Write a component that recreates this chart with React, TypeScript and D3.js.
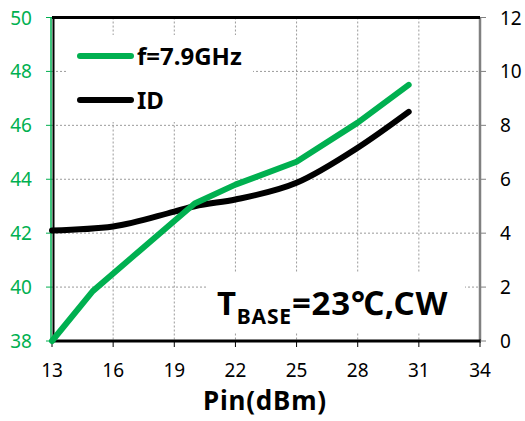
import React from "react";
import * as d3 from "d3";

const xTicks = [13, 16, 19, 22, 25, 28, 31, 34];
const leftTicks = [38, 40, 42, 44, 46, 48, 50];
const rightTicks = [0, 2, 4, 6, 8, 10, 12];

const poutX = [13, 15, 17, 19, 20, 22, 25, 28, 30.5];
const poutY = [38, 39.85, 41.15, 42.45, 43.1, 43.8, 44.65, 46.1, 47.5];

const idX = [13, 16, 19, 20, 22, 25, 28, 30.5];
const idY = [4.1, 4.25, 4.8, 5.0, 5.25, 5.87, 7.17, 8.5];

const GREEN = "#00B050";
const FONT = "'Noto Sans', 'DejaVu Sans', sans-serif";

export default function App() {
  const W = 525, H = 421;
  const L = 52, R = 480, T = 17.5, B = 341;
  const x = d3.scaleLinear().domain([13, 34]).range([L, R]);
  const yl = d3.scaleLinear().domain([38, 50]).range([B, T]);
  const yr = d3.scaleLinear().domain([0, 12]).range([B, T]);

  const poutLine = d3.line<number>().x((_, i) => x(poutX[i])).y((d) => yl(d));
  const idLine = d3
    .line<number>()
    .x((_, i) => x(idX[i]))
    .y((d) => yr(d))
    .curve(d3.curveMonotoneX);

  return (
    <svg width={W} height={H} style={{ position: "absolute", left: 0, top: 0, background: "#fff" }}>
      <rect x={0} y={0} width={W} height={H} fill="#fff" />
      {/* grid */}
      {xTicks.slice(1, -1).map((t) => (
        <line key={"gx" + t} x1={x(t)} x2={x(t)} y1={T} y2={B} stroke="#9a9a9a" strokeWidth={1} strokeDasharray="2,2" />
      ))}
      {leftTicks.slice(1, -1).map((t) => (
        <line key={"gy" + t} x1={L} x2={R} y1={yl(t)} y2={yl(t)} stroke="#9a9a9a" strokeWidth={1} strokeDasharray="2,2" />
      ))}
      {/* legend box background */}
      <rect x={68} y={35} width={185} height={87} fill="#fff" />
      {/* annotation box background */}
      <rect x={207} y={273} width={258} height={59} fill="#fff" />

      {/* frame */}
      <line x1={R} x2={R} y1={T} y2={B} stroke="#808080" strokeWidth={2.5} />
      <line x1={L} x2={R} y1={T} y2={T} stroke="#000" strokeWidth={3} />
      <line x1={L + 1.5} x2={L + 1.5} y1={T} y2={B} stroke="#000" strokeWidth={2} />
      <line x1={L - 1} x2={L - 1} y1={T} y2={B} stroke={GREEN} strokeWidth={1.5} />
      <line x1={L} x2={R + 1} y1={B} y2={B} stroke="#000" strokeWidth={3} />

      {/* ticks */}
      {xTicks.map((t) => (
        <g key={"xt" + t}>
          <line x1={x(t)} x2={x(t)} y1={B} y2={B + 6} stroke="#000" strokeWidth={1} />
          <text x={x(t)} y={377} textAnchor="middle" fontFamily={FONT} fontSize={19} fill="#000">
            {t}
          </text>
        </g>
      ))}
      {leftTicks.map((t) => (
        <g key={"lt" + t}>
          <line x1={L - 6} x2={L} y1={yl(t)} y2={yl(t)} stroke={GREEN} strokeWidth={1} />
          <text x={32} y={yl(t) + 7} textAnchor="end" fontFamily={FONT} fontSize={19} fill={GREEN}>
            {t}
          </text>
        </g>
      ))}
      {rightTicks.map((t) => (
        <g key={"rt" + t}>
          <line x1={R} x2={R + 6} y1={yr(t)} y2={yr(t)} stroke="#808080" strokeWidth={1} />
          <text x={500} y={yr(t) + 7} textAnchor="start" fontFamily={FONT} fontSize={19} fill="#000">
            {t}
          </text>
        </g>
      ))}

      {/* data */}
      <path d={idLine(idY) || ""} fill="none" stroke="#000" strokeWidth={6} strokeLinecap="round" strokeLinejoin="round" />
      <path d={poutLine(poutY) || ""} fill="none" stroke={GREEN} strokeWidth={6} strokeLinecap="round" strokeLinejoin="round" />

      {/* legend */}
      <line x1={80} x2={131} y1={56} y2={56} stroke={GREEN} strokeWidth={6} strokeLinecap="round" />
      <text x={137} y={65} fontFamily={FONT} fontWeight="bold" fontSize={24} fill="#000">
        f=7.9GHz
      </text>
      <line x1={80} x2={131} y1={100} y2={100} stroke="#000" strokeWidth={6} strokeLinecap="round" />
      <text x={137} y={109} fontFamily={FONT} fontWeight="bold" fontSize={24} fill="#000">
        ID
      </text>

      {/* annotation */}
      <text x={217} y={315} fontFamily={FONT} fontWeight="bold" fontSize={33} letterSpacing={0.8} fill="#000">
        T
        <tspan fontSize={21} dy={9}>BASE</tspan>
        <tspan dy={-9}>=23℃,CW</tspan>
      </text>

      {/* axis title */}
      <text x={265} y={410} textAnchor="middle" fontFamily={FONT} fontWeight="bold" fontSize={26} letterSpacing={0.8} fill="#000">
        Pin(dBm)
      </text>
    </svg>
  );
}
